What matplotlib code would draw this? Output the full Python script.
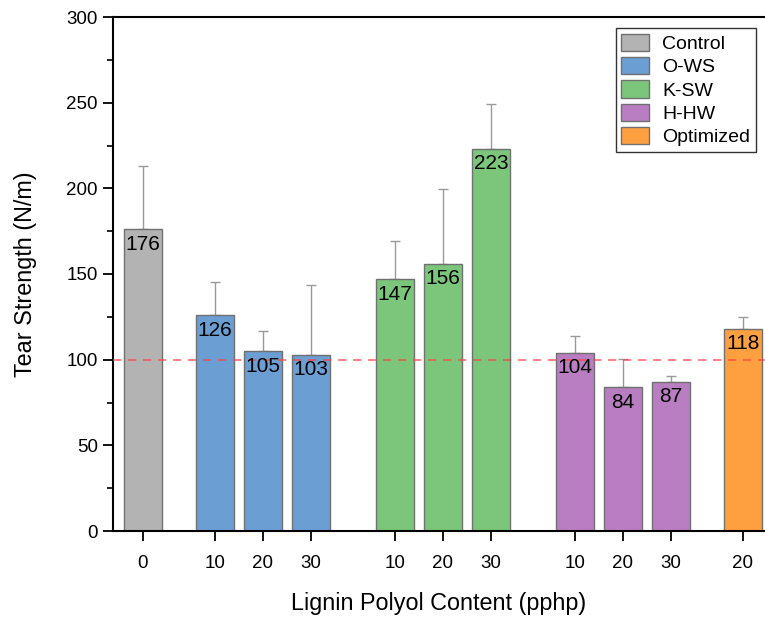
import matplotlib
matplotlib.use("Agg")
import matplotlib.pyplot as plt
from matplotlib.patches import Patch
from matplotlib.ticker import MultipleLocator

plt.rcParams['font.family'] = ['Liberation Sans', 'DejaVu Sans']

groups = ["Control", "O-WS", "K-SW", "H-HW", "Optimized"]
group_colors = ["#b3b3b3", "#6b9fd3", "#7cc67c", "#b97dc1", "#ffa040"]
tick_labels = ["0", "10", "20", "30", "10", "20", "30", "10", "20", "30", "20"]
bar_group = [0, 1, 1, 1, 2, 2, 2, 3, 3, 3, 4]
values = [176, 126, 105, 103, 147, 156, 223, 104, 84, 87, 118]
errors = [37, 19.5, 11.7, 40.6, 22.5, 43.6, 26.4, 9.8, 16.4, 3.7, 7.1]
positions = [0, 1.5, 2.5, 3.5, 5.25, 6.25, 7.25, 9.0, 10.0, 11.0, 12.5]
reference_line = 100

fig = plt.figure(figsize=(7.65, 6.19), dpi=100)
ax = fig.add_axes([113/765, 1 - 531/619, 1 - 113/765, (531 - 17)/619])

colors = [group_colors[g] for g in bar_group]
ax.bar(positions, values, width=0.8, color=colors, edgecolor="#707070",
       linewidth=1.0, zorder=2)
ax.errorbar(positions, values, yerr=[[0]*len(errors), errors], fmt="none",
            ecolor="#9a9a9a", elinewidth=1.0, capsize=3.5, capthick=1.0, zorder=1)

for x, v in zip(positions, values):
    ax.annotate(str(v), (x, v), xytext=(0, -4), textcoords="offset points",
                ha="center", va="top", fontsize=15, zorder=4)

ax.axhline(reference_line, color="#ff4040", alpha=0.75, linestyle=(0, (5, 4)),
           linewidth=1.2, zorder=3)

ax.set_ylim(0, 300)
ax.set_xlim(-0.625, 12.96)
ax.yaxis.set_major_locator(MultipleLocator(50))
ax.yaxis.set_minor_locator(MultipleLocator(25))
ax.set_xticks(positions)
ax.set_xticklabels(tick_labels)
ax.tick_params(axis="both", which="major", direction="out", length=7, width=1.3,
               labelsize=13.5)
ax.tick_params(axis="y", which="major", pad=4)
ax.tick_params(axis="x", which="major", pad=10)
ax.tick_params(axis="y", which="minor", direction="out", length=4, width=1.2)

for s in ["left", "bottom", "top"]:
    ax.spines[s].set_linewidth(1.5)
ax.spines["right"].set_visible(False)

ax.set_ylabel("Tear Strength (N/m)", fontsize=16.8, labelpad=21)
ax.set_xlabel("Lignin Polyol Content (pphp)", fontsize=16.8, labelpad=15)

handles = [Patch(facecolor=c, edgecolor="#707070", linewidth=1.0) for c in group_colors]
leg = ax.legend(handles, groups, loc="upper right",
                bbox_to_anchor=(756/765, 1 - 28/619), bbox_transform=fig.transFigure,
                borderaxespad=0, fontsize=14, frameon=True, fancybox=False,
                edgecolor="black", handlelength=1.4, handleheight=1.0,
                labelspacing=0.2, handletextpad=0.7, borderpad=0.3)
leg.get_frame().set_linewidth(1.0)

fig.savefig("out.png", dpi=100)
